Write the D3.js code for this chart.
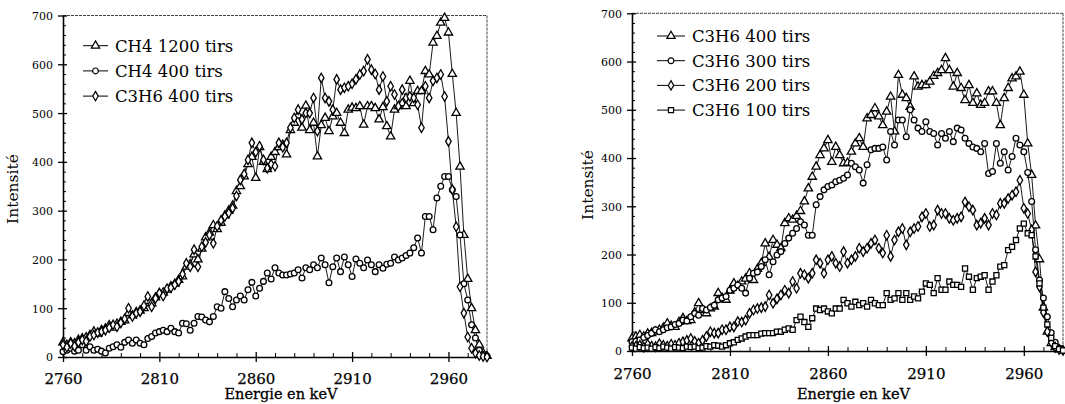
<!DOCTYPE html>
<html>
<head>
<meta charset="utf-8">
<script src="https://cdn.jsdelivr.net/npm/d3@7"></script>
<style>
  html, body { margin: 0; padding: 0; background: #fff; }
  svg { display: block; }
  text { font-family: "DejaVu Serif", serif; fill: #000; }
</style>
</head>
<body>
<svg id="chart" width="1065" height="404"></svg>
<script>
// ---------- DATA ----------
const energies = [
  2760,2762,2764,2766,2768,2770,2772,2774,2776,2778,
  2780,2782,2784,2786,2788,2790,2792,2794,2796,2798,
  2800,2802,2804,2806,2808,2810,2812,2814,2816,2818,
  2820,2822,2824,2826,2828,2830,2832,2834,2836,2838,
  2840,2842,2844,2846,2848,2850,2852,2854,2856,2858,
  2860,2862,2864,2866,2868,2870,2872,2874,2876,2878,
  2880,2882,2884,2886,2888,2890,2892,2894,2896,2898,
  2900,2902,2904,2906,2908,2910,2912,2914,2916,2918,
  2920,2922,2924,2926,2928,2930,2932,2934,2936,2938,
  2940,2942,2944,2946,2948,2950,2952,2954,2956,2958,
  2960,2962,2964,2966,2968,2970,2972,2974,2976,2978,
  2980
];

// Left panel
const ch4_1200 = [
  30,25,30,28,35,38,40,45,52,48,
  55,58,65,60,68,72,75,90,85,92,
  95,100,115,110,122,130,132,138,145,150,
  158,165,185,190,210,200,222,245,255,270,
  262,275,290,300,310,340,350,370,395,410,
  367,430,400,385,410,420,430,435,415,465,
  480,495,470,515,465,480,411,475,490,463,
  493,500,480,459,507,511,510,514,476,514,
  514,510,487,512,473,452,507,514,520,514,
  566,520,545,545,586,579,644,658,685,695,
  665,580,500,390,250,160,100,55,25,8,
  2
];
const ch4_400 = [
  11,14,18,12,14,25,14,21,14,16,
  12,8,18,21,25,20,30,35,28,35,
  28,25,38,42,49,52,55,52,59,52,
  49,69,68,55,69,83,82,76,72,83,
  103,100,134,120,103,117,125,117,138,153,
  125,141,155,172,160,183,172,168,168,170,
  172,179,162,183,179,189,183,203,189,152,
  185,203,175,205,189,165,201,192,183,199,
  189,175,189,182,190,192,205,199,203,208,
  213,224,244,213,288,288,261,326,350,370,
  370,343,329,250,150,117,66,39,14,5,
  2
];
const c3h6_400_left = [
  25,20,28,22,30,35,32,42,45,50,
  52,55,60,66,62,70,78,100,83,90,
  93,105,124,103,120,131,125,140,142,148,
  155,170,192,185,220,185,226,235,250,233,
  268,280,288,295,305,330,363,375,404,439,
  420,432,404,387,395,391,439,430,439,470,
  490,507,487,500,500,531,463,572,531,524,
  507,569,548,552,555,560,569,579,586,610,
  589,580,548,575,524,555,538,514,548,531,
  534,531,517,470,555,531,566,572,579,534,
  442,343,267,144,90,41,18,8,3,1,
  0
];

// Right panel
const c3h6_400 = [
  26,30,33,30,36,37,40,44,48,57,
  52,50,60,68,62,64,80,99,85,78,
  88,92,120,110,106,125,140,135,144,150,
  161,147,170,182,223,195,230,220,213,265,
  275,272,280,290,310,337,361,382,406,420,
  437,392,423,406,389,390,413,430,441,423,
  482,489,503,486,468,496,527,455,572,531,
  524,506,569,548,551,551,558,570,576,582,
  607,582,548,576,545,520,551,514,534,510,
  514,538,538,514,468,524,545,565,569,579,
  531,430,365,260,190,90,40,16,8,3,
  1
];
const c3h6_300 = [
  19,20,23,28,32,37,44,40,44,48,
  50,55,57,64,62,71,78,74,88,85,
  90,95,106,110,113,126,130,137,130,120,
  151,161,164,175,189,158,185,199,206,223,
  234,244,254,268,261,240,240,303,320,334,
  341,344,351,354,358,365,389,382,375,348,
  386,417,420,420,423,396,455,427,479,479,
  444,500,479,462,455,475,455,451,427,451,
  441,455,434,462,458,441,430,423,420,413,
  430,368,372,430,389,413,375,403,441,427,
  413,370,310,210,147,110,71,38,18,6,
  2
];
const c3h6_200 = [
  9,10,12,8,14,10,9,15,12,10,
  14,12,16,19,22,26,20,16,22,30,
  40,37,37,44,44,50,50,61,60,64,
  78,85,88,90,92,116,99,108,116,126,
  120,144,130,161,158,151,161,189,182,161,
  189,196,182,175,206,182,189,196,213,206,
  213,223,230,213,203,240,196,230,247,254,
  220,247,254,258,278,285,258,261,292,285,
  285,275,271,275,278,309,299,292,261,265,
  275,261,285,282,306,306,316,323,330,354,
  296,285,251,164,133,80,40,18,8,3,
  1
];
const c3h6_100 = [
  7,5,8,6,7,5,8,6,9,7,
  5,8,7,6,9,8,9,6,7,10,
  9,12,11,9,12,16,18,23,26,30,
  33,33,33,36,37,37,37,40,40,44,
  47,44,64,71,60,50,68,88,85,88,
  82,78,88,88,106,99,92,102,95,99,
  92,106,99,95,95,120,106,109,120,106,
  120,106,113,109,123,140,137,120,151,127,
  127,144,137,137,133,171,154,127,151,154,
  157,127,144,157,175,178,209,216,230,254,
  264,244,240,196,140,90,55,27,10,4,
  1
];

const xTickValues = [2760, 2810, 2860, 2910, 2960];
const yTickValues = [0, 100, 200, 300, 400, 500, 600, 700];
const xTitle = "Energie en keV";
const yTitle = "Intensité";

const leftSeries = [
  { name: "CH4 1200 tirs", values: ch4_1200, marker: "triangle" },
  { name: "CH4 400 tirs", values: ch4_400, marker: "circle" },
  { name: "C3H6 400 tirs", values: c3h6_400_left, marker: "diamond" }
];
const rightSeries = [
  { name: "C3H6 400 tirs", values: c3h6_400, marker: "triangle" },
  { name: "C3H6 300 tirs", values: c3h6_300, marker: "circle" },
  { name: "C3H6 200 tirs", values: c3h6_200, marker: "diamond" },
  { name: "C3H6 100 tirs", values: c3h6_100, marker: "square" }
];

// ---------- DRAWING ----------
const svg = d3.select("#chart");

const symbolTypes = {
  triangle: { type: d3.symbolTriangle, size: 30 },
  circle:   { type: d3.symbolCircle,   size: 26 },
  diamond:  { type: d3.symbolDiamond,  size: 26 },
  square:   { type: d3.symbolSquare,   size: 26 }
};

function drawPanel(cfg) {
  const x = d3.scaleLinear().domain([2760, 2980]).range([cfg.left, cfg.right]);
  const y = d3.scaleLinear().domain([0, 700]).range([cfg.bottom, cfg.top]);
  const g = svg.append("g");

  // frame: top and right borders (light, dotted)
  g.append("line").attr("x1", cfg.left).attr("x2", cfg.right)
    .attr("y1", cfg.top).attr("y2", cfg.top)
    .attr("stroke", "#444").attr("stroke-width", 1).attr("stroke-dasharray", "3,1");
  g.append("line").attr("x1", cfg.right).attr("x2", cfg.right)
    .attr("y1", cfg.top).attr("y2", cfg.bottom)
    .attr("stroke", "#444").attr("stroke-width", 1).attr("stroke-dasharray", "3,1");

  // minor x ticks (inward)
  const xMinor = d3.range(2760, 2981, 10).filter(v => !xTickValues.includes(v));
  g.append("g").attr("transform", `translate(0,${cfg.bottom})`)
    .call(d3.axisTop(x).tickValues(xMinor).tickSize(4).tickFormat(""))
    .call(a => a.select(".domain").remove())
    .selectAll("line").attr("stroke-width", 1);

  // minor y ticks (inward)
  const yMinor = d3.range(0, 701, 20).filter(v => !yTickValues.includes(v));
  g.append("g").attr("transform", `translate(${cfg.left},0)`)
    .call(d3.axisRight(y).tickValues(yMinor).tickSize(3).tickFormat(""))
    .call(a => a.select(".domain").remove())
    .selectAll("line").attr("stroke-width", 1);

  // major x axis
  const xa = g.append("g").attr("transform", `translate(0,${cfg.bottom})`)
    .call(d3.axisBottom(x).tickValues(xTickValues).tickSize(5).tickSizeOuter(0).tickFormat(d3.format("d")));
  xa.select(".domain").attr("stroke-width", 1.6);
  xa.selectAll(".tick line").attr("y1", -5).attr("stroke-width", 1.3);
  xa.selectAll(".tick text").attr("y", cfg.xLabelOffset).attr("dy", 0)
    .style("font-family", "DejaVu Serif").style("font-size", "15px")
    .style("stroke", "#000").style("stroke-width", 0.25);

  // major y axis
  const ya = g.append("g").attr("transform", `translate(${cfg.left},0)`)
    .call(d3.axisLeft(y).tickValues(yTickValues).tickSize(5).tickSizeOuter(0).tickFormat(d3.format("d")));
  ya.select(".domain").attr("stroke-width", 1.6);
  ya.selectAll(".tick line").attr("x1", 4).attr("stroke-width", 1.3);
  ya.selectAll(".tick text").attr("x", -10).attr("dy", "0.36em")
    .style("font-family", "DejaVu Serif").style("font-size", "11px");

  // titles
  g.append("text").attr("x", (cfg.left + cfg.right) / 2 + 6).attr("y", 399)
    .attr("text-anchor", "middle").style("font-size", "14.5px")
    .style("stroke", "#000").style("stroke-width", 0.3).text(xTitle);
  g.append("text").attr("transform", `translate(${cfg.yTitleX},${cfg.yTitleY}) rotate(-90)`)
    .attr("text-anchor", "middle").style("font-size", "15.5px").text(yTitle);

  // series
  const line = d3.line().x((d, i) => x(energies[i])).y(d => y(d));
  cfg.series.forEach(s => {
    g.append("path").datum(s.values).attr("d", line)
      .attr("fill", "none").attr("stroke", "#000").attr("stroke-width", 0.9);
  });
  cfg.series.forEach(s => {
    const sym = symbolTypes[s.marker];
    g.append("g").selectAll("path").data(s.values).join("path")
      .attr("transform", (d, i) => `translate(${x(energies[i])},${y(d)})`)
      .attr("d", d3.symbol().type(sym.type).size(sym.size))
      .attr("fill", "#fff").attr("stroke", "#000").attr("stroke-width", 1.3);
  });

  // legend
  const lg = g.append("g");
  cfg.series.forEach((s, i) => {
    const yy = cfg.legendTop + i * cfg.legendStep;
    lg.append("line").attr("x1", cfg.legendX).attr("x2", cfg.legendX + cfg.legendLen)
      .attr("y1", yy).attr("y2", yy).attr("stroke", "#000").attr("stroke-width", 1);
    const sym = symbolTypes[s.marker];
    lg.append("path").attr("transform", `translate(${cfg.legendX + cfg.legendLen / 2},${yy})`)
      .attr("d", d3.symbol().type(sym.type).size(sym.size))
      .attr("fill", "#fff").attr("stroke", "#000").attr("stroke-width", 1.2);
    lg.append("text").attr("x", cfg.legendX + cfg.legendLen + 7).attr("y", yy + 6)
      .style("font-size", "16.5px").text(s.name);
  });
}

drawPanel({
  left: 63, right: 487, top: 15.5, bottom: 357,
  xLabelOffset: 27, yTitleX: 18, yTitleY: 189,
  series: leftSeries,
  legendX: 83, legendLen: 25, legendTop: 45.7, legendStep: 25.2
});
drawPanel({
  left: 632, right: 1063, top: 13.3, bottom: 351,
  xLabelOffset: 28, yTitleX: 593, yTitleY: 185,
  series: rightSeries,
  legendX: 657, legendLen: 28, legendTop: 36, legendStep: 24.7
});
</script>
</body>
</html>
